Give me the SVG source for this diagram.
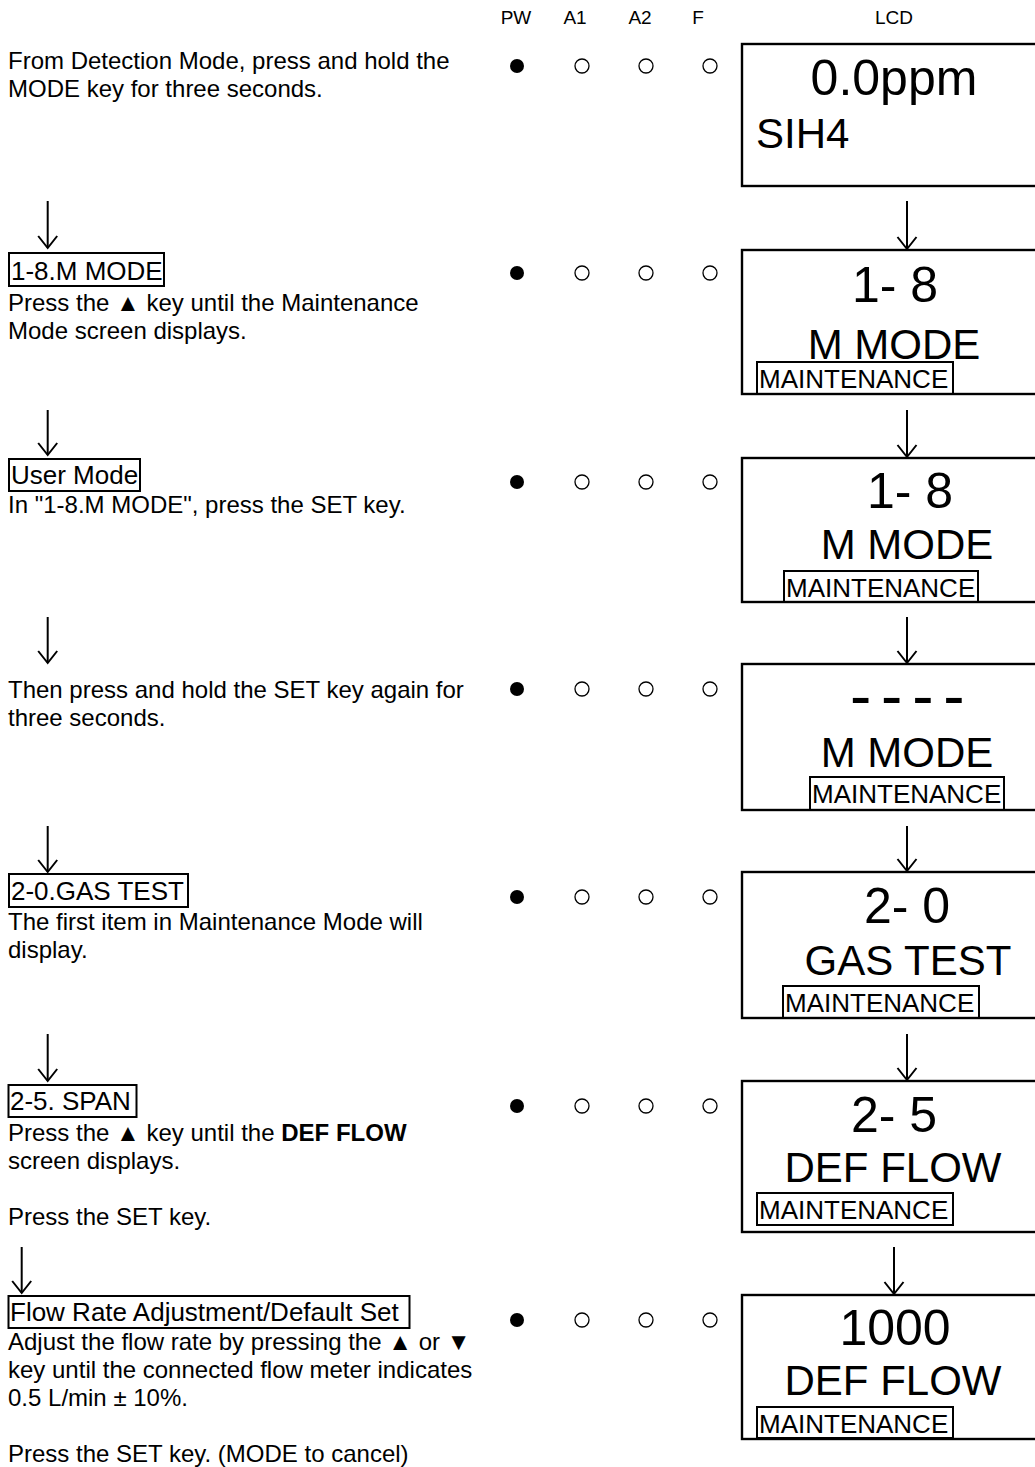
<svg xmlns="http://www.w3.org/2000/svg" width="1035" height="1467" viewBox="0 0 1035 1467">
<style>
text{font-family:"Liberation Sans",Arial,sans-serif;fill:#000}
.hd{font-size:19px;text-anchor:middle}
.body{font-size:24px}
.ttl{font-size:26px}
.big{font-size:50px;text-anchor:middle}
.mid{font-size:42px;text-anchor:middle}
.mnt{font-size:26px}
.lcd{fill:none;stroke:#000;stroke-width:2.4}
.tb{fill:none;stroke:#000;stroke-width:2}
.on{fill:#000}
.off{fill:none;stroke:#000;stroke-width:1.3}
.arr{stroke:#000;stroke-width:2;fill:none}
</style>
<defs>
<marker id="ah" markerUnits="userSpaceOnUse" markerWidth="16" markerHeight="24" refX="14" refY="12" orient="auto" viewBox="0 0 16 24">
<path d="M2,2.5 L14,12 L2,21.5" fill="none" stroke="#000" stroke-width="2"/>
</marker>
<g id="leds">
<circle class="on" cx="517" cy="0" r="7"/>
<circle class="off" cx="582" cy="0" r="7"/>
<circle class="off" cx="646" cy="0" r="7"/>
<circle class="off" cx="710" cy="0" r="7"/>
</g>
</defs>
<rect width="1035" height="1467" fill="#fff"/>

<g id="header">
<text class="hd" x="516" y="24">PW</text>
<text class="hd" x="575" y="24">A1</text>
<text class="hd" x="640" y="24">A2</text>
<text class="hd" x="698" y="24">F</text>
<text class="hd" x="894" y="24">LCD</text>
</g>

<g id="connectors">
<line class="arr" x1="47.7" y1="201" x2="47.7" y2="248" marker-end="url(#ah)"/>
<line class="arr" x1="47.7" y1="410" x2="47.7" y2="455" marker-end="url(#ah)"/>
<line class="arr" x1="47.7" y1="617" x2="47.7" y2="663" marker-end="url(#ah)"/>
<line class="arr" x1="47.7" y1="826" x2="47.7" y2="872" marker-end="url(#ah)"/>
<line class="arr" x1="47.7" y1="1034" x2="47.7" y2="1081" marker-end="url(#ah)"/>
<line class="arr" x1="21.7" y1="1247" x2="21.7" y2="1293" marker-end="url(#ah)"/>
<line class="arr" x1="907" y1="201" x2="907" y2="249" marker-end="url(#ah)"/>
<line class="arr" x1="907" y1="410" x2="907" y2="457" marker-end="url(#ah)"/>
<line class="arr" x1="907" y1="617" x2="907" y2="663" marker-end="url(#ah)"/>
<line class="arr" x1="907" y1="826" x2="907" y2="871" marker-end="url(#ah)"/>
<line class="arr" x1="907" y1="1034" x2="907" y2="1080" marker-end="url(#ah)"/>
<line class="arr" x1="894" y1="1247" x2="894" y2="1294" marker-end="url(#ah)"/>
</g>

<g id="step1">
<text class="body" x="8" y="69">From Detection Mode, press and hold the</text>
<text class="body" x="8" y="97">MODE key for three seconds.</text>
<use href="#leds" y="66"/>
<rect class="lcd" x="742" y="44" width="300" height="142"/>
<text class="big" x="894" y="95">0.0ppm</text>
<text x="756" y="148" style="font-size:42px">SIH4</text>
</g>

<g id="step2">
<rect class="tb" x="9" y="253" width="155" height="33"/>
<text class="ttl" x="11" y="280">1-8.M MODE</text>
<text class="body" x="8" y="311">Press the ▲ key until the Maintenance</text>
<text class="body" x="8" y="339">Mode screen displays.</text>
<use href="#leds" y="273"/>
<rect class="lcd" x="742" y="250" width="300" height="144"/>
<text class="big" x="895" y="302">1- 8</text>
<text class="mid" x="894" y="359">M MODE</text>
<rect class="tb" x="757" y="362" width="196" height="32"/>
<text class="mnt" x="759" y="388">MAINTENANCE</text>
</g>

<g id="step3">
<rect class="tb" x="9" y="459" width="131" height="32"/>
<text class="ttl" x="11" y="484">User Mode</text>
<text class="body" x="8" y="513">In "1-8.M MODE", press the SET key.</text>
<use href="#leds" y="482"/>
<rect class="lcd" x="742" y="458" width="300" height="144"/>
<text class="big" x="910" y="508">1- 8</text>
<text class="mid" x="907" y="559">M MODE</text>
<rect class="tb" x="784" y="571" width="194" height="31"/>
<text class="mnt" x="786" y="597">MAINTENANCE</text>
</g>

<g id="step4">
<text class="body" x="8" y="698">Then press and hold the SET key again for</text>
<text class="body" x="8" y="726">three seconds.</text>
<use href="#leds" y="689"/>
<rect class="lcd" x="742" y="664" width="300" height="146"/>
<text x="850" y="718" style="font-size:64px;letter-spacing:-4px">- - - -</text>
<text class="mid" x="907" y="767">M MODE</text>
<rect class="tb" x="810" y="777" width="194" height="33"/>
<text class="mnt" x="812" y="803">MAINTENANCE</text>
</g>

<g id="step5">
<rect class="tb" x="9" y="874" width="179" height="33"/>
<text class="ttl" x="11" y="900">2-0.GAS TEST</text>
<text class="body" x="8" y="930">The first item in Maintenance Mode will</text>
<text class="body" x="8" y="958">display.</text>
<use href="#leds" y="897"/>
<rect class="lcd" x="742" y="872" width="300" height="146"/>
<text class="big" x="907" y="923">2- 0</text>
<text class="mid" x="908" y="975">GAS TEST</text>
<rect class="tb" x="783" y="986" width="196" height="32"/>
<text class="mnt" x="785" y="1012">MAINTENANCE</text>
</g>

<g id="step6">
<rect class="tb" x="8.5" y="1085" width="128" height="32"/>
<text class="ttl" x="10" y="1110">2-5. SPAN</text>
<text class="body" x="8" y="1141">Press the ▲ key until the <tspan style="font-weight:bold">DEF FLOW</tspan></text>
<text class="body" x="8" y="1169">screen displays.</text>
<text class="body" x="8" y="1225">Press the SET key.</text>
<use href="#leds" y="1106"/>
<rect class="lcd" x="742" y="1081" width="300" height="151"/>
<text class="big" x="894" y="1132">2- 5</text>
<text class="mid" x="893" y="1182">DEF FLOW</text>
<rect class="tb" x="757" y="1193" width="196" height="32"/>
<text class="mnt" x="759" y="1219">MAINTENANCE</text>
</g>

<g id="step7">
<rect class="tb" x="8.5" y="1296" width="401" height="32"/>
<text class="ttl" x="10" y="1321">Flow Rate Adjustment/Default Set</text>
<text class="body" x="8" y="1350">Adjust the flow rate by pressing the ▲ or ▼</text>
<text class="body" x="8" y="1378">key until the connected flow meter indicates</text>
<text class="body" x="8" y="1406">0.5 L/min ± 10%.</text>
<text class="body" x="8" y="1462">Press the SET key. (MODE to cancel)</text>
<use href="#leds" y="1320"/>
<rect class="lcd" x="742" y="1295" width="300" height="144"/>
<text class="big" x="895" y="1345">1000</text>
<text class="mid" x="893" y="1395">DEF FLOW</text>
<rect class="tb" x="757" y="1407" width="196" height="31"/>
<text class="mnt" x="759" y="1433">MAINTENANCE</text>
</g>
</svg>
